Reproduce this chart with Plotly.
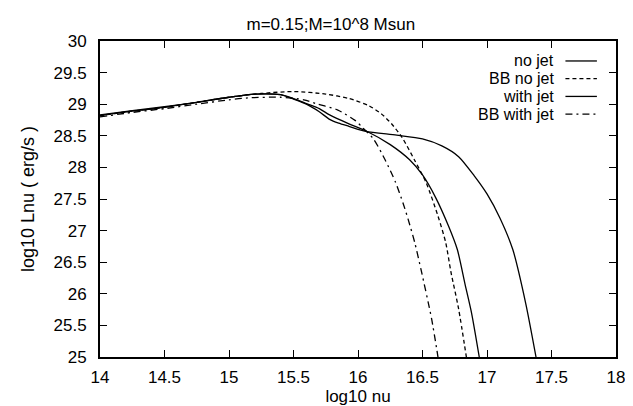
import plotly.graph_objects as go

# ---- data ----
no_jet_x = [14.0, 14.25, 14.5, 14.75, 15.0, 15.2, 15.4, 15.5, 15.6, 15.7, 15.78, 15.93, 16.06,
            16.25, 16.4, 16.5, 16.6, 16.7, 16.77, 16.83, 16.88, 16.94]
no_jet_y = [28.83, 28.90, 28.96, 29.03, 29.11, 29.16, 29.15, 29.09, 29.01, 28.93, 28.83, 28.69, 28.58,
            28.36, 28.12, 27.88, 27.53, 27.08, 26.70, 26.15, 25.70, 25.0]

bb_no_jet_x = [14.0, 14.25, 14.5, 14.75, 15.0, 15.25, 15.5, 15.75, 15.93, 16.08, 16.18, 16.26,
               16.34, 16.44, 16.53, 16.62, 16.68, 16.72, 16.78, 16.84]
bb_no_jet_y = [28.82, 28.89, 28.95, 29.03, 29.11, 29.17, 29.20, 29.16, 29.09, 28.98, 28.85, 28.69,
               28.48, 28.11, 27.75, 27.23, 26.81, 26.35, 25.76, 25.0]

with_jet_x = [14.0, 14.25, 14.5, 14.75, 15.0, 15.2, 15.4, 15.5, 15.6, 15.7, 15.78, 15.85, 15.93,
              16.06, 16.3, 16.5, 16.65, 16.78, 16.9, 17.0, 17.1, 17.2, 17.3, 17.38]
with_jet_y = [28.82, 28.89, 28.95, 29.03, 29.11, 29.16, 29.15, 29.08, 29.00, 28.88, 28.76, 28.70, 28.65,
              28.57, 28.51, 28.45, 28.34, 28.17, 27.87, 27.58, 27.20, 26.70, 25.85, 25.0]

bb_with_jet_x = [14.0, 14.25, 14.5, 14.75, 15.0, 15.15, 15.4, 15.58, 15.69, 15.84, 15.98, 16.04,
                 16.12, 16.21, 16.29, 16.35, 16.39, 16.44, 16.49, 16.57, 16.62]
bb_with_jet_y = [28.80, 28.87, 28.93, 29.00, 29.07, 29.10, 29.11, 29.07, 29.00, 28.91, 28.74, 28.62,
                 28.45, 28.12, 27.77, 27.43, 27.17, 26.81, 26.37, 25.61, 25.0]

series_names = ["no jet", "BB no jet", "with jet", "BB with jet"]
x_ticks = [14, 14.5, 15, 15.5, 16, 16.5, 17, 17.5, 18]
y_ticks = [25, 25.5, 26, 26.5, 27, 27.5, 28, 28.5, 29, 29.5, 30]

title_text = "m=0.15;M=10^8 Msun"
x_title = "log10 nu"
y_title = "log10 Lnu ( erg/s )"

# ---- styling ----
FONT = "Liberation Sans, Arial, Helvetica, sans-serif"
FS = 17
dashes = ["solid", "4px,3px", "solid", "7px,4px,2px,4px"]
series = [(no_jet_x, no_jet_y), (bb_no_jet_x, bb_no_jet_y),
          (with_jet_x, with_jet_y), (bb_with_jet_x, bb_with_jet_y)]

fig = go.Figure()
for (xs, ys), name, dash in zip(series, series_names, dashes):
    fig.add_trace(go.Scatter(x=xs, y=ys, mode="lines", name=name, showlegend=False,
                             line=dict(color="black", width=1.3, dash=dash,
                                       shape="spline", smoothing=0.7)))

# custom gnuplot-style legend (text right-aligned, sample line to its right)
row_y = [0.9368, 0.8807, 0.8246, 0.7685]
for name, dash, yy in zip(series_names, dashes, row_y):
    fig.add_annotation(x=0.882, y=yy, xref="paper", yref="paper", text=name, showarrow=False,
                       xanchor="right", yanchor="middle", borderpad=0,
                       font=dict(size=16, color="black", family=FONT))
    fig.add_shape(type="line", xref="paper", yref="paper", x0=0.902, x1=0.963, y0=yy, y1=yy,
                  line=dict(color="black", width=1.3, dash=dash))

# y axis title placed like gnuplot's
fig.add_annotation(x=0, xref="paper", xshift=-72, y=0.5, yref="paper", text=y_title,
                   textangle=-90, showarrow=False, xanchor="center", yanchor="middle",
                   font=dict(size=18, color="black", family=FONT))

axis_common = dict(showgrid=False, zeroline=False, showline=True, linecolor="black", linewidth=2,
                   ticks="inside", ticklen=7, tickwidth=1.3, tickcolor="black", mirror="allticks",
                   tickfont=dict(size=FS, color="black", family=FONT))

fig.update_xaxes(range=[14, 18], tickvals=x_ticks, ticktext=[f"{v:g}" for v in x_ticks],
                 ticklabelstandoff=4,
                 title=dict(text=x_title, font=dict(size=FS, color="black", family=FONT), standoff=3),
                 **axis_common)
fig.update_yaxes(range=[25, 30], tickvals=y_ticks, ticktext=[f"{v:g}" for v in y_ticks],
                 ticklabelstandoff=8, **axis_common)

fig.update_layout(
    width=633, height=406,
    margin=dict(l=92, r=25, t=33, b=54),
    paper_bgcolor="white", plot_bgcolor="white",
    title=dict(text=title_text, x=0.51, xanchor="center", y=0.9606, yanchor="middle",
               font=dict(size=FS, color="black", family=FONT)),
    showlegend=False,
)

fig.write_html("out.html")
